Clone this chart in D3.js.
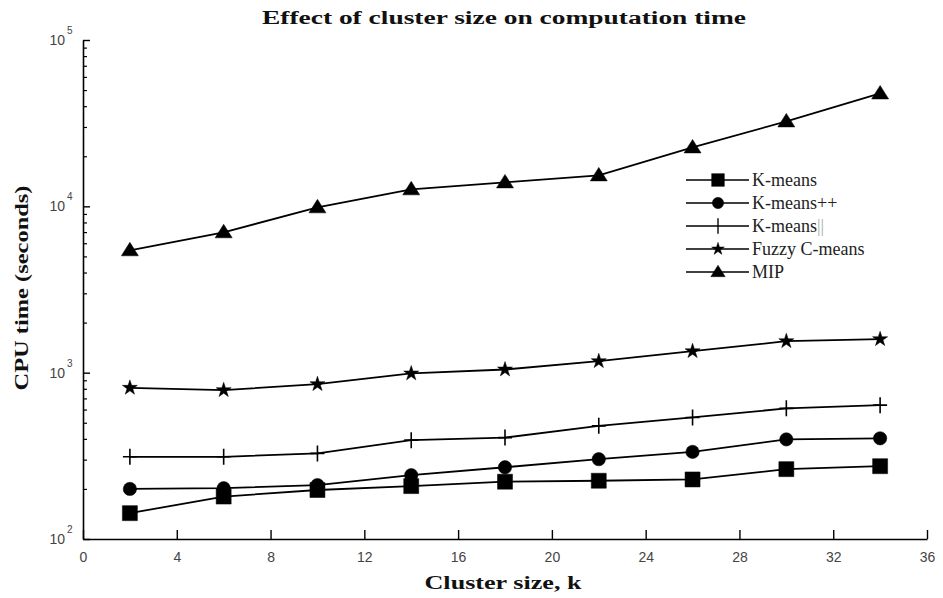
<!DOCTYPE html>
<html>
<head>
<meta charset="utf-8">
<script src="https://cdn.jsdelivr.net/npm/d3@7"></script>
<style>
  body { margin: 0; background: #fff; }
  svg { display: block; }
</style>
</head>
<body>
<svg id="Chart"></svg>
<script>
let clusterSizes = [2, 6, 10, 14, 18, 22, 26, 30, 34]
let kmeans = [143, 180, 197, 208, 221, 224, 228, 263, 274]
let kmeansPP = [200, 202, 211, 242, 270, 302, 334, 397, 403]
let kmeansPar = [312, 312, 327, 393, 407, 479, 538, 610, 638]
let fuzzyCMeans = [811, 785, 853, 989, 1045, 1172, 1346, 1546, 1590]
let mip = [5440, 6980, 9860, 12650, 13930, 15350, 22600, 32400, 47700]
let seriesNames = ["K-means", "K-means++", "K-means||", "Fuzzy C-means", "MIP"]
let seriesMarkers = ["square", "circle", "plus", "star", "triangle"]
let xTicks = [0, 4, 8, 12, 16, 20, 24, 28, 32, 36]
let yExponents = [2, 3, 4, 5]

let config = {}

function initConfig() {
    let width = 943
    let height = 598
    let margin = {left: 83, right: 16, top: 40, bottom: 59}
    let container = d3.select("#Chart")
        .attr("width", width)
        .attr("height", height)
    let x = d3.scaleLinear().domain([0, 36]).range([margin.left, width - margin.right])
    let y = d3.scaleLog().domain([100, 100000]).range([height - margin.bottom, margin.top])
    config = {width, height, margin, container, x, y}
}

function markerPath(type) {
    if (type == "square") return "M-7.5,-7.5H7.5V7.5H-7.5Z"
    if (type == "circle") return d3.symbol(d3.symbolCircle, 140)()
    if (type == "triangle") return "M0,-8L8.5,5.5H-8.5Z"
    if (type == "star") return d3.symbol(d3.symbolStar, 70)()
    if (type == "plus") return "M0,-8V8M-7,0H7"
}

function drawAxes() {
    let {container, x, y, margin, height} = config
    let bottom = height - margin.bottom

    // x axis, ticks pointing inside
    let xAxis = container.append("g")
        .attr("transform", `translate(0,${bottom})`)
        .call(d3.axisBottom(x).tickValues(xTicks).tickSizeInner(-9).tickSizeOuter(0).tickPadding(13))
    xAxis.select(".domain").attr("stroke", "#000").attr("stroke-width", 1.6)
    xAxis.selectAll(".tick line").attr("stroke", "#000").attr("stroke-width", 1.4)
    xAxis.selectAll(".tick text")
        .attr("font-family", "Liberation Sans, Arial, sans-serif")
        .attr("font-size", "14px")
        .attr("fill", "#444")

    // y axis minor ticks
    let minor = []
    yExponents.slice(0, -1).forEach(e => {
        for (let m = 2; m <= 9; m++) minor.push(m * Math.pow(10, e))
    })
    let yMinor = container.append("g")
        .attr("transform", `translate(${margin.left},0)`)
        .call(d3.axisLeft(y).tickValues(minor).tickSizeInner(-4).tickSizeOuter(0).tickFormat(""))
    yMinor.select(".domain").remove()
    yMinor.selectAll(".tick line").attr("stroke", "#000").attr("stroke-width", 1.2)

    let yAxis = container.append("g")
        .attr("transform", `translate(${margin.left},0)`)
        .call(d3.axisLeft(y).tickValues(yExponents.map(e => Math.pow(10, e))).tickSizeInner(-7).tickSizeOuter(0).tickFormat(""))
    yAxis.select(".domain").attr("stroke", "#000").attr("stroke-width", 1.6)
    yAxis.selectAll(".tick line").attr("stroke", "#000").attr("stroke-width", 1.4)

    let labels = container.append("g")
        .attr("font-family", "Liberation Sans, Arial, sans-serif")
        .attr("fill", "#444")
    yExponents.forEach(e => {
        let yy = y(Math.pow(10, e))
        labels.append("text")
            .attr("x", 65).attr("y", yy + 5)
            .attr("text-anchor", "end")
            .attr("font-size", "14px")
            .text("10")
        labels.append("text")
            .attr("x", 67).attr("y", yy - 6)
            .attr("font-size", "10px")
            .text(e)
    })
}

function drawSeries() {
    let {container, x, y} = config
    let allSeries = [kmeans, kmeansPP, kmeansPar, fuzzyCMeans, mip]
    let line = d3.line()
        .x((d, i) => x(clusterSizes[i]))
        .y(d => y(d))

    allSeries.forEach((values, s) => {
        let g = container.append("g")
        g.append("path")
            .attr("d", line(values))
            .attr("fill", "none")
            .attr("stroke", "#000")
            .attr("stroke-width", 1.8)
        let type = seriesMarkers[s]
        g.selectAll("path.marker").data(values)
            .enter().append("path")
            .attr("class", "marker")
            .attr("transform", (d, i) => `translate(${x(clusterSizes[i])},${y(d)})`)
            .attr("d", markerPath(type))
            .attr("fill", type == "plus" ? "none" : "#000")
            .attr("stroke", "#000")
            .attr("stroke-width", type == "plus" ? 1.6 : 0.5)
    })
}

function drawLegend() {
    let {container} = config
    let legend = container.append("g")
    seriesNames.forEach((name, i) => {
        let yy = 180 + i * 23
        legend.append("line")
            .attr("x1", 686).attr("x2", 749)
            .attr("y1", yy).attr("y2", yy)
            .attr("stroke", "#000")
            .attr("stroke-width", 1.6)
        let type = seriesMarkers[i]
        legend.append("path")
            .attr("transform", `translate(718,${yy}) scale(0.85)`)
            .attr("d", type == "plus" ? "M0,-9V9" : markerPath(type))
            .attr("fill", type == "plus" ? "none" : "#000")
            .attr("stroke", "#000")
            .attr("stroke-width", type == "plus" ? 1.6 : 0.5)
        let t = legend.append("text")
            .attr("x", 752).attr("y", yy + 6)
            .attr("font-family", "Liberation Serif, Times New Roman, serif")
            .attr("font-size", "18px")
            .attr("fill", "#222")
        if (name == "K-means||") {
            t.text("K-means")
            t.append("tspan").attr("fill", "#aaa").text("||")
        } else {
            t.text(name)
        }
    })
}

function drawText() {
    let {container} = config
    container.append("text")
        .attr("x", 504).attr("y", 24)
        .attr("text-anchor", "middle")
        .attr("font-family", "Liberation Serif, Times New Roman, serif")
        .attr("font-weight", "bold")
        .attr("font-size", "18px")
        .attr("textLength", 484)
        .attr("lengthAdjust", "spacingAndGlyphs")
        .attr("fill", "#111")
        .text("Effect of cluster size on computation time")

    container.append("text")
        .attr("x", 503).attr("y", 589)
        .attr("text-anchor", "middle")
        .attr("font-family", "Liberation Serif, Times New Roman, serif")
        .attr("font-weight", "bold")
        .attr("font-size", "18px")
        .attr("textLength", 157)
        .attr("lengthAdjust", "spacingAndGlyphs")
        .attr("fill", "#111")
        .text("Cluster size, k")

    container.append("text")
        .attr("transform", "translate(28,288) rotate(-90)")
        .attr("text-anchor", "middle")
        .attr("font-family", "Liberation Serif, Times New Roman, serif")
        .attr("font-weight", "bold")
        .attr("font-size", "18px")
        .attr("textLength", 205)
        .attr("lengthAdjust", "spacingAndGlyphs")
        .attr("fill", "#111")
        .text("CPU time (seconds)")
}

function showChart() {
    initConfig()
    drawAxes()
    drawSeries()
    drawLegend()
    drawText()
}

window.addEventListener("load", showChart)
</script>
</body>
</html>
